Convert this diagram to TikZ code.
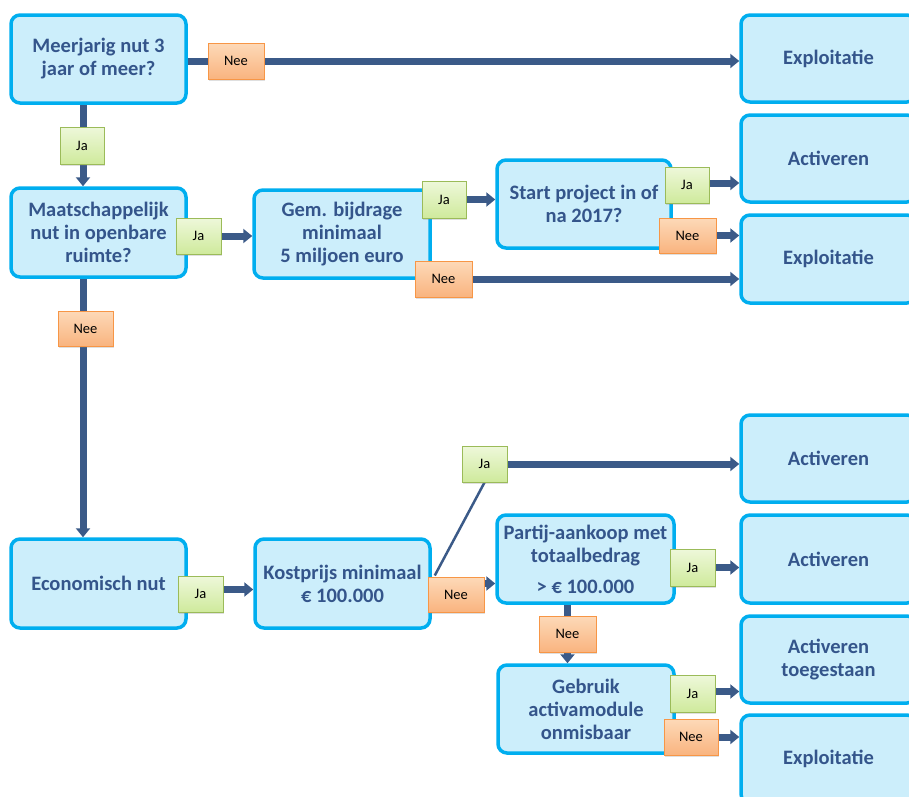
\documentclass[tikz,border=0pt]{standalone}
\usepackage{fontspec}
\setmainfont{Carlito}
\usetikzlibrary{arrows.meta,backgrounds,shadows}
\definecolor{boxfill}{HTML}{CCEEFB}
\definecolor{boxline}{HTML}{00AEEF}
\definecolor{txtc}{HTML}{34558B}
\definecolor{arrowc}{HTML}{3B5A88}
\definecolor{jatop}{HTML}{EEF8DA}
\definecolor{jabot}{HTML}{CFEA9C}
\definecolor{jaline}{HTML}{9BBB59}
\definecolor{neetop}{HTML}{FDD9B8}
\definecolor{neebot}{HTML}{F9B47F}
\definecolor{neeline}{HTML}{F79646}
\tikzset{
  box/.style={draw=boxline, line width=3.5pt, fill=boxfill, rounded corners=9pt,
    text=txtc, align=center, inner sep=2pt,
    font=\bfseries\fontsize{20.5}{23}\selectfont},
  lbl/.style={line width=0.9pt, inner sep=1pt, font=\fontsize{14.5}{16}\selectfont, text=black,
    drop shadow={shadow xshift=1.2pt, shadow yshift=-1.5pt, opacity=0.25}},
  ja/.style={lbl, draw=jaline, top color=jatop, bottom color=jabot},
  nee/.style={lbl, draw=neeline, top color=neetop, bottom color=neebot},
  link/.style={draw=arrowc, line width=7pt, -{Triangle[width=14pt,length=9pt]}},
  thinlink/.style={draw=arrowc, line width=2.5pt}
}
\begin{document}
\begin{tikzpicture}[x=1pt,y=-1pt]
\useasboundingbox (0,0) rectangle (909,796);
% boxes
\node[box, minimum width=175pt, minimum height=88pt] (b1) at (98.5,59) {Meerjarig nut 3\\jaar of meer?};
\node[box, minimum width=175pt, minimum height=87pt] (e1) at (828.5,58.5) {Exploitatie};
\node[box, minimum width=175pt, minimum height=87pt] (a2) at (828.5,158.5) {Activeren};
\node[box, minimum width=175pt, minimum height=88pt] (e3) at (828.5,259) {Exploitatie};
\node[box, minimum width=175pt, minimum height=89pt] (b2) at (98.5,232.5) {Maatschappelijk\\nut in openbare\\ruimte?};
\node[box, minimum width=176pt, minimum height=88pt] (b3) at (342,234) {Gem. bijdrage\\minimaal\\5 miljoen euro};
\node[box, minimum width=174pt, minimum height=88pt] (b4) at (584,204) {Start project in of\\na 2017?};
\node[box, minimum width=175pt, minimum height=89pt] (b5) at (98.5,583.5) {Economisch nut};
\node[box, minimum width=175pt, minimum height=89pt] (b6) at (342.5,583.5) {Kostprijs minimaal\\€ 100.000};
\node[box, minimum width=175pt, minimum height=87pt] (a4) at (828.5,458.5) {Activeren};
\node[box, minimum width=175pt, minimum height=88pt] (a5) at (828.5,559) {Activeren};
\node[box, minimum width=175pt, minimum height=87pt] (a6) at (828.5,659.5) {Activeren\\toegestaan};
\node[box, minimum width=175pt, minimum height=88pt] (e4) at (828.5,759) {Exploitatie};
\node[box, minimum width=177pt, minimum height=88pt] (b7) at (585.5,559) {Partij-aankoop met\\totaalbedrag\\[8pt]> € 100.000};
\node[box, minimum width=176pt, minimum height=88pt] (b8) at (586,709) {Gebruik\\activamodule\\onmisbaar};
% labels
\node[nee, minimum width=56pt, minimum height=36pt] (n1) at (236,61) {Nee};
\node[ja, minimum width=44pt, minimum height=37pt] (j1) at (82,145.5) {Ja};
\node[ja, minimum width=45pt, minimum height=36pt] (j2) at (198.5,236) {Ja};
\node[ja, minimum width=44pt, minimum height=37pt] (j3) at (444,199.5) {Ja};
\node[nee, minimum width=57pt, minimum height=36pt] (n3) at (443.5,279) {Nee};
\node[ja, minimum width=44pt, minimum height=36pt] (j4) at (687,185) {Ja};
\node[nee, minimum width=57pt, minimum height=35pt] (n4) at (687.5,235.5) {Nee};
\node[nee, minimum width=55pt, minimum height=35pt] (n2) at (85.5,328.5) {Nee};
\node[ja, minimum width=45pt, minimum height=36pt] (j5) at (200.5,594) {Ja};
\node[nee, minimum width=56pt, minimum height=35pt] (n5) at (456,594.5) {Nee};
\node[ja, minimum width=45pt, minimum height=36pt] (j6) at (484.5,464) {Ja};
\node[ja, minimum width=45pt, minimum height=37pt] (j7) at (692.5,567.5) {Ja};
\node[nee, minimum width=57pt, minimum height=36pt] (n6) at (567.5,634) {Nee};
\node[ja, minimum width=45pt, minimum height=37pt] (j8) at (692.5,693.5) {Ja};
\node[nee, minimum width=54pt, minimum height=36pt] (n7) at (691,737) {Nee};
% connectors
\begin{scope}[on background layer]
\draw[link] (b1.east |- n1) -- (e1.west |- n1);
\draw[link] ([xshift=-15.5pt]b1.south) -- ([xshift=-15.5pt]b2.north);
\draw[link] (b2.east |- j2) -- (b3.west |- j2);
\draw[link] (b3.east |- j3) -- (b4.west |- j3);
\draw[link] (b3.east |- n3) -- (e3.west |- n3);
\draw[link] ([yshift=2pt]b4.east |- j4) -- ([yshift=2pt]a2.west |- j4);
\draw[link] (b4.east |- n4) -- (e3.west |- n4);
\draw[link] ([xshift=-15.5pt]b2.south) -- ([xshift=-15.5pt]b5.north);
\draw[link] ([yshift=-6pt]b5.east) -- ([yshift=-6pt]b6.west);
\draw[link] (b6.east) -- (b7.west |- b6.east);
\draw[thinlink] ([xshift=3pt,yshift=8pt]b6.east) -- (j6.south);
\draw[link] (j6.east) -- (a4.west |- j6);
\draw[link] (b7.east |- j7) -- (a5.west |- j7);
\draw[link] (b7.south -| n6) -- (b8.north -| n6);
\draw[link] ([yshift=2pt]b8.east |- j8) -- ([yshift=2pt]a6.west |- j8);
\draw[link] (b8.east |- n7) -- (e4.west |- n7);
\end{scope}
\end{tikzpicture}
\end{document}
